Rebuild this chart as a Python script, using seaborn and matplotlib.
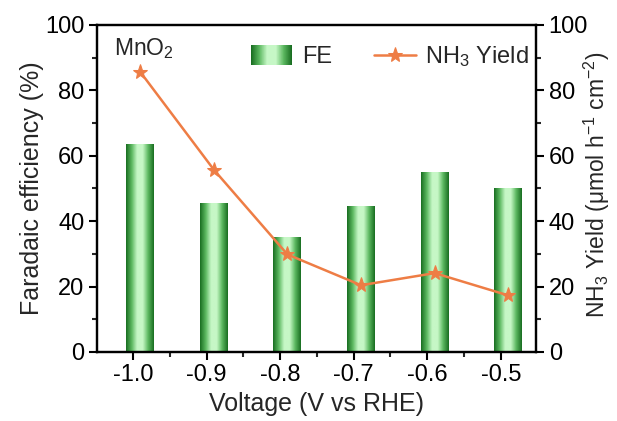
import numpy as np
import seaborn as sns
import matplotlib.pyplot as plt
from matplotlib.colors import LinearSegmentedColormap
from matplotlib.patches import Rectangle
from matplotlib.legend_handler import HandlerBase
from matplotlib.ticker import MultipleLocator

# data
voltage_ticks = [-1.0, -0.9, -0.8, -0.7, -0.6, -0.5]
tick_labels = ['-1.0', '-0.9', '-0.8', '-0.7', '-0.6', '-0.5']
voltage = [-0.99, -0.89, -0.79, -0.69, -0.59, -0.49]
fe = [63.5, 45.5, 35.0, 44.6, 55.0, 50.0]
nh3_yield = [85.6, 55.7, 29.8, 20.4, 24.1, 17.3]

sns.set_style('ticks')
plt.rcParams['font.family'] = ['Liberation Sans', 'DejaVu Sans']
plt.rcParams['mathtext.fontset'] = 'custom'
plt.rcParams['mathtext.rm'] = 'Liberation Sans'
plt.rcParams['mathtext.default'] = 'regular'

fs = 18
tfs = 17
orange = '#EE7D45'
green_cmap = LinearSegmentedColormap.from_list(
    'grbar', ['#1a6f22', '#5cb860', '#c6f7c6', '#c6f7c6', '#5cb860', '#1a6f22'])

fig = plt.figure(figsize=(6.17, 4.21), dpi=100)
ax = fig.add_axes([0.157, 0.164, 0.712, 0.777])

# bars, then replace their fill with a horizontal gradient
sns.barplot(x=voltage, y=fe, native_scale=True, width=0.38, ax=ax,
            color='none', edgecolor='none')
grad = np.linspace(0, 1, 64).reshape(1, -1)
for p in ax.patches:
    x0, w, h = p.get_x(), p.get_width(), p.get_height()
    ax.imshow(grad, cmap=green_cmap, aspect='auto', extent=(x0, x0 + w, 0, h),
              zorder=2, interpolation='bilinear')

ax.set_xlim(-1.049, -0.452)
ax.set_ylim(0, 100)
ax.set_xticks(voltage_ticks)
ax.set_xticklabels(tick_labels)
ax.xaxis.set_minor_locator(MultipleLocator(0.05))
ax.yaxis.set_major_locator(MultipleLocator(20))
ax.yaxis.set_minor_locator(MultipleLocator(10))
ax.set_xlabel('Voltage (V vs RHE)', fontsize=fs, labelpad=4)
ax.set_ylabel('Faradaic efficiency (%)', fontsize=fs)
ax.yaxis.set_label_coords(-0.12, 0.5)

ax2 = ax.twinx()
sns.lineplot(x=voltage, y=nh3_yield, ax=ax2, color=orange, marker='*',
             markersize=11, markeredgecolor=orange, linewidth=1.8)
ax2.set_ylim(0, 100)
ax2.yaxis.set_major_locator(MultipleLocator(20))
ax2.yaxis.set_minor_locator(MultipleLocator(10))
ax2.set_ylabel('NH$_3$ Yield (μmol h$^{-1}$ cm$^{-2}$)', fontsize=16.5)
ax2.yaxis.set_label_coords(1.105, 0.51)

for a in (ax, ax2):
    for s in a.spines.values():
        s.set_linewidth(1.6)
        s.set_color('black')
    a.tick_params(which='major', direction='out', length=6, width=1.5,
                  labelsize=tfs, colors='black', pad=3)
    a.tick_params(which='minor', direction='out', length=3.5, width=1.5)
ax.tick_params(axis='y', which='both', right=False)
ax2.tick_params(axis='y', which='both', left=False)

ax.text(0.04, 0.965, 'MnO$_2$', transform=ax.transAxes, fontsize=16.5,
        ha='left', va='top')


class GradientHandler(HandlerBase):
    def create_artists(self, legend, orig_handle, xdescent, ydescent,
                       width, height, fontsize, trans):
        n = 40
        arts = []
        for i in range(n):
            r = Rectangle((-xdescent + i * width / n, -ydescent - 1),
                          width / n * 1.1, height + 2,
                          facecolor=green_cmap(i / (n - 1)),
                          edgecolor='none', transform=trans)
            arts.append(r)
        return arts


fe_handle = Rectangle((0, 0), 1, 1)
line_handle = ax2.lines[0]
leg = ax2.legend([fe_handle, line_handle], ['FE', 'NH$_3$ Yield'],
                 handler_map={Rectangle: GradientHandler()},
                 loc='center', bbox_to_anchor=(0.632, 0.865),
                 bbox_transform=fig.transFigure, ncol=2, frameon=False,
                 fontsize=tfs, handlelength=1.75, handleheight=0.75,
                 handletextpad=0.4, columnspacing=1.8, borderpad=0)

fig.savefig('out.png', dpi=100)
